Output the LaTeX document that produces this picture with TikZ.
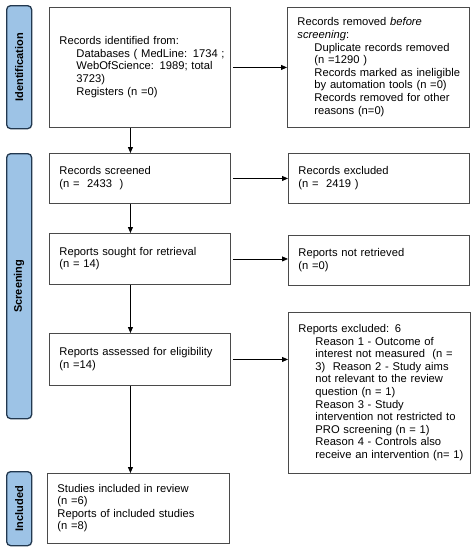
\documentclass[tikz,border=0pt]{standalone}
\usepackage{fontspec}
\setmainfont{Liberation Sans}
\usetikzlibrary{arrows.meta}
\definecolor{labfill}{HTML}{9DC3E6}
\definecolor{labdraw}{HTML}{22384F}
\definecolor{boxdraw}{HTML}{4A4A4A}
\newcommand{\ind}{\hspace*{17pt}}
\newcommand{\lines}[1]{\begin{tabular}{@{}l@{}}#1\end{tabular}}
\begin{document}
\begin{tikzpicture}[x=1pt,y=-1pt,
  txt/.style={font=\fontsize{11.2}{12.6}\selectfont},
  box/.style={txt,draw=boxdraw,line width=0.9pt,rectangle,anchor=north west,align=left,inner xsep=10pt,inner ysep=0pt},
  lab/.style={draw=labdraw,fill=labfill,line width=1.3pt,rounded corners=4pt,anchor=north west,inner sep=0pt},
  labtxt/.style={font=\fontsize{11}{13}\selectfont\bfseries,rotate=90},
  arr/.style={-{Triangle[length=6pt,width=5pt]},line width=0.8pt,black}]
\useasboundingbox (0,0) rectangle (474,550);
\renewcommand{\arraystretch}{1}
% phase labels
\node[lab,minimum width=25pt,minimum height=123pt] (idlab) at (6,5) {};
\node[labtxt] (idtxt) at (idlab.center) {Identification};
\node[lab,minimum width=25pt,minimum height=265pt] (scrlab) at (6,153) {};
\node[labtxt] (scrtxt) at (scrlab.center) {Screening};
\node[lab,minimum width=25pt,minimum height=74pt] (inclab) at (6,471) {};
\node[labtxt] (inctxt) at (inclab.center) {Included};
% boxes
\node[box,text width=161pt,minimum height=120pt] (b1) at (49,7)
 {\lines{Records identified from:\\
  \ind Databases ( MedLine: 1734 ;\\
  \ind WebOfScience: 1989; total\\
  \ind 3723)\\
  \ind Registers (n =0)}};
\node[box,text width=162pt,minimum height=120pt] (rem) at (287,7)
 {\lines{Records removed \textit{before}\\
  \textit{screening}:\\
  \ind Duplicate records removed\\
  \ind (n =1290 )\\
  \ind Records marked as ineligible\\
  \ind by automation tools (n =0)\\
  \ind Records removed for other\\
  \ind reasons (n=0)}};
\node[box,text width=161pt,minimum height=50pt] (scr) at (49,153)
 {\lines{Records screened\\(n = \ 2433 \ )}};
\node[box,text width=161pt,minimum height=50pt] (exc) at (288,153)
 {\lines{Records excluded\\(n = \ 2419 )}};
\node[box,text width=161pt,minimum height=51pt] (sought) at (49,233)
 {\lines{Reports sought for retrieval\\(n = 14)}};
\node[box,text width=161pt,minimum height=50pt] (notret) at (288,235)
 {\lines{Reports not retrieved\\(n =0)}};
\node[box,text width=161pt,minimum height=52pt] (assess) at (49,333)
 {\lines{Reports assessed for eligibility\\(n =14)}};
\node[box,text width=162pt,minimum height=161pt] (rexc) at (288,312)
 {\lines{Reports excluded: 6\\
  \ind Reason 1 - Outcome of\\
  \ind interest not measured \ (n =\\
  \ind 3) \ Reason 2 - Study aims\\
  \ind not relevant to the review\\
  \ind question (n = 1)\\
  \ind Reason 3 - Study\\
  \ind intervention not restricted to\\
  \ind PRO screening (n = 1)\\
  \ind Reason 4 - Controls also\\
  \ind receive an intervention (n= 1)}};
\node[box,text width=162pt,minimum height=70pt] (incl) at (47,473)
 {\lines{Studies included in review\\(n =6)\\Reports of included studies\\(n =8)}};
% connectors
\draw[arr] ([xshift=2pt]b1.east) -- (rem.west);
\draw[arr] ([xshift=2pt]scr.east) -- (exc.west);
\draw[arr] ([xshift=2pt]sought.east) -- (sought.east -| notret.west);
\draw[arr] ([xshift=2pt]assess.east) -- (assess.east -| rexc.west);
\draw[arr] ([xshift=-9.5pt]b1.south) -- ([xshift=-9.5pt]b1.south |- scr.north);
\draw[arr] ([xshift=-9.5pt]scr.south) -- ([xshift=-9.5pt]scr.south |- sought.north);
\draw[arr] ([xshift=-9.5pt]sought.south) -- ([xshift=-9.5pt]sought.south |- assess.north);
\draw[arr] ([xshift=-9.5pt]assess.south) -- ([xshift=-9.5pt]assess.south |- incl.north);
\end{tikzpicture}
\end{document}
